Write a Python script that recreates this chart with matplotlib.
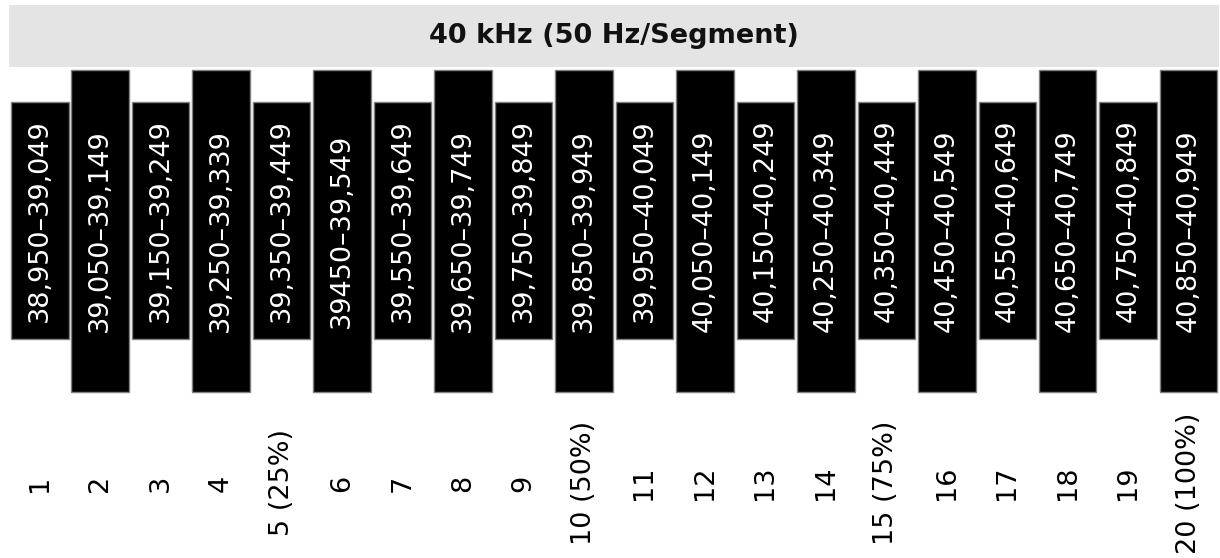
import matplotlib.pyplot as plt
from matplotlib.patches import Rectangle

TITLE = "40 kHz (50 Hz/Segment)"
SEGMENTS = list(range(1, 21))
RANGES = [
    "38,950–39,049", "39,050–39,149", "39,150–39,249", "39,250–39,339",
    "39,350–39,449", "39450–39,549", "39,550–39,649", "39,650–39,749",
    "39,750–39,849", "39,850–39,949", "39,950–40,049", "40,050–40,149",
    "40,150–40,249", "40,250–40,349", "40,350–40,449", "40,450–40,549",
    "40,550–40,649", "40,650–40,749", "40,750–40,849", "40,850–40,949",
]
SEG_LABELS = ["1", "2", "3", "4", "5 (25%)", "6", "7", "8", "9", "10 (50%)",
              "11", "12", "13", "14", "15 (75%)", "16", "17", "18", "19", "20 (100%)"]

W, H = 1220, 558
FS = 19.5

fig = plt.figure(figsize=(W / 100, H / 100), dpi=100)
ax = fig.add_axes([0, 0, 1, 1])
ax.axis("off")

# vertical axis in pixel rows (top = 0), horizontal in segment units
pitch = 60.47
x0 = 1 - 39.75 / pitch
ax.set_xlim(x0, x0 + W / pitch)
ax.set_ylim(H, 0)

# title banner
fig.patches.append(Rectangle((9 / W, 1 - 67 / H), 1210 / W, 62 / H,
                             transform=fig.transFigure, facecolor="#e4e4e4",
                             edgecolor="none", zorder=0))
fig.text(614 / W, 1 - 36 / H, TITLE, ha="center", va="center",
         fontsize=FS, fontweight="bold", color="#111111")

for seg, rng, lab in zip(SEGMENTS, RANGES, SEG_LABELS):
    if seg % 2:
        top, bottom = 102, 339
    else:
        top, bottom = 70, 392
    ax.bar(seg, bottom - top, bottom=top, width=0.951, color="black",
           edgecolor="#808080", linewidth=1)
    ax.text(seg, (top + bottom) / 2, rng, rotation=90, ha="center",
            va="center", color="white", fontsize=FS)
    ax.text(seg, 483, lab, rotation=90, ha="center", va="center",
            color="black", fontsize=FS)

fig.savefig("out.png", dpi=100, facecolor="white")
